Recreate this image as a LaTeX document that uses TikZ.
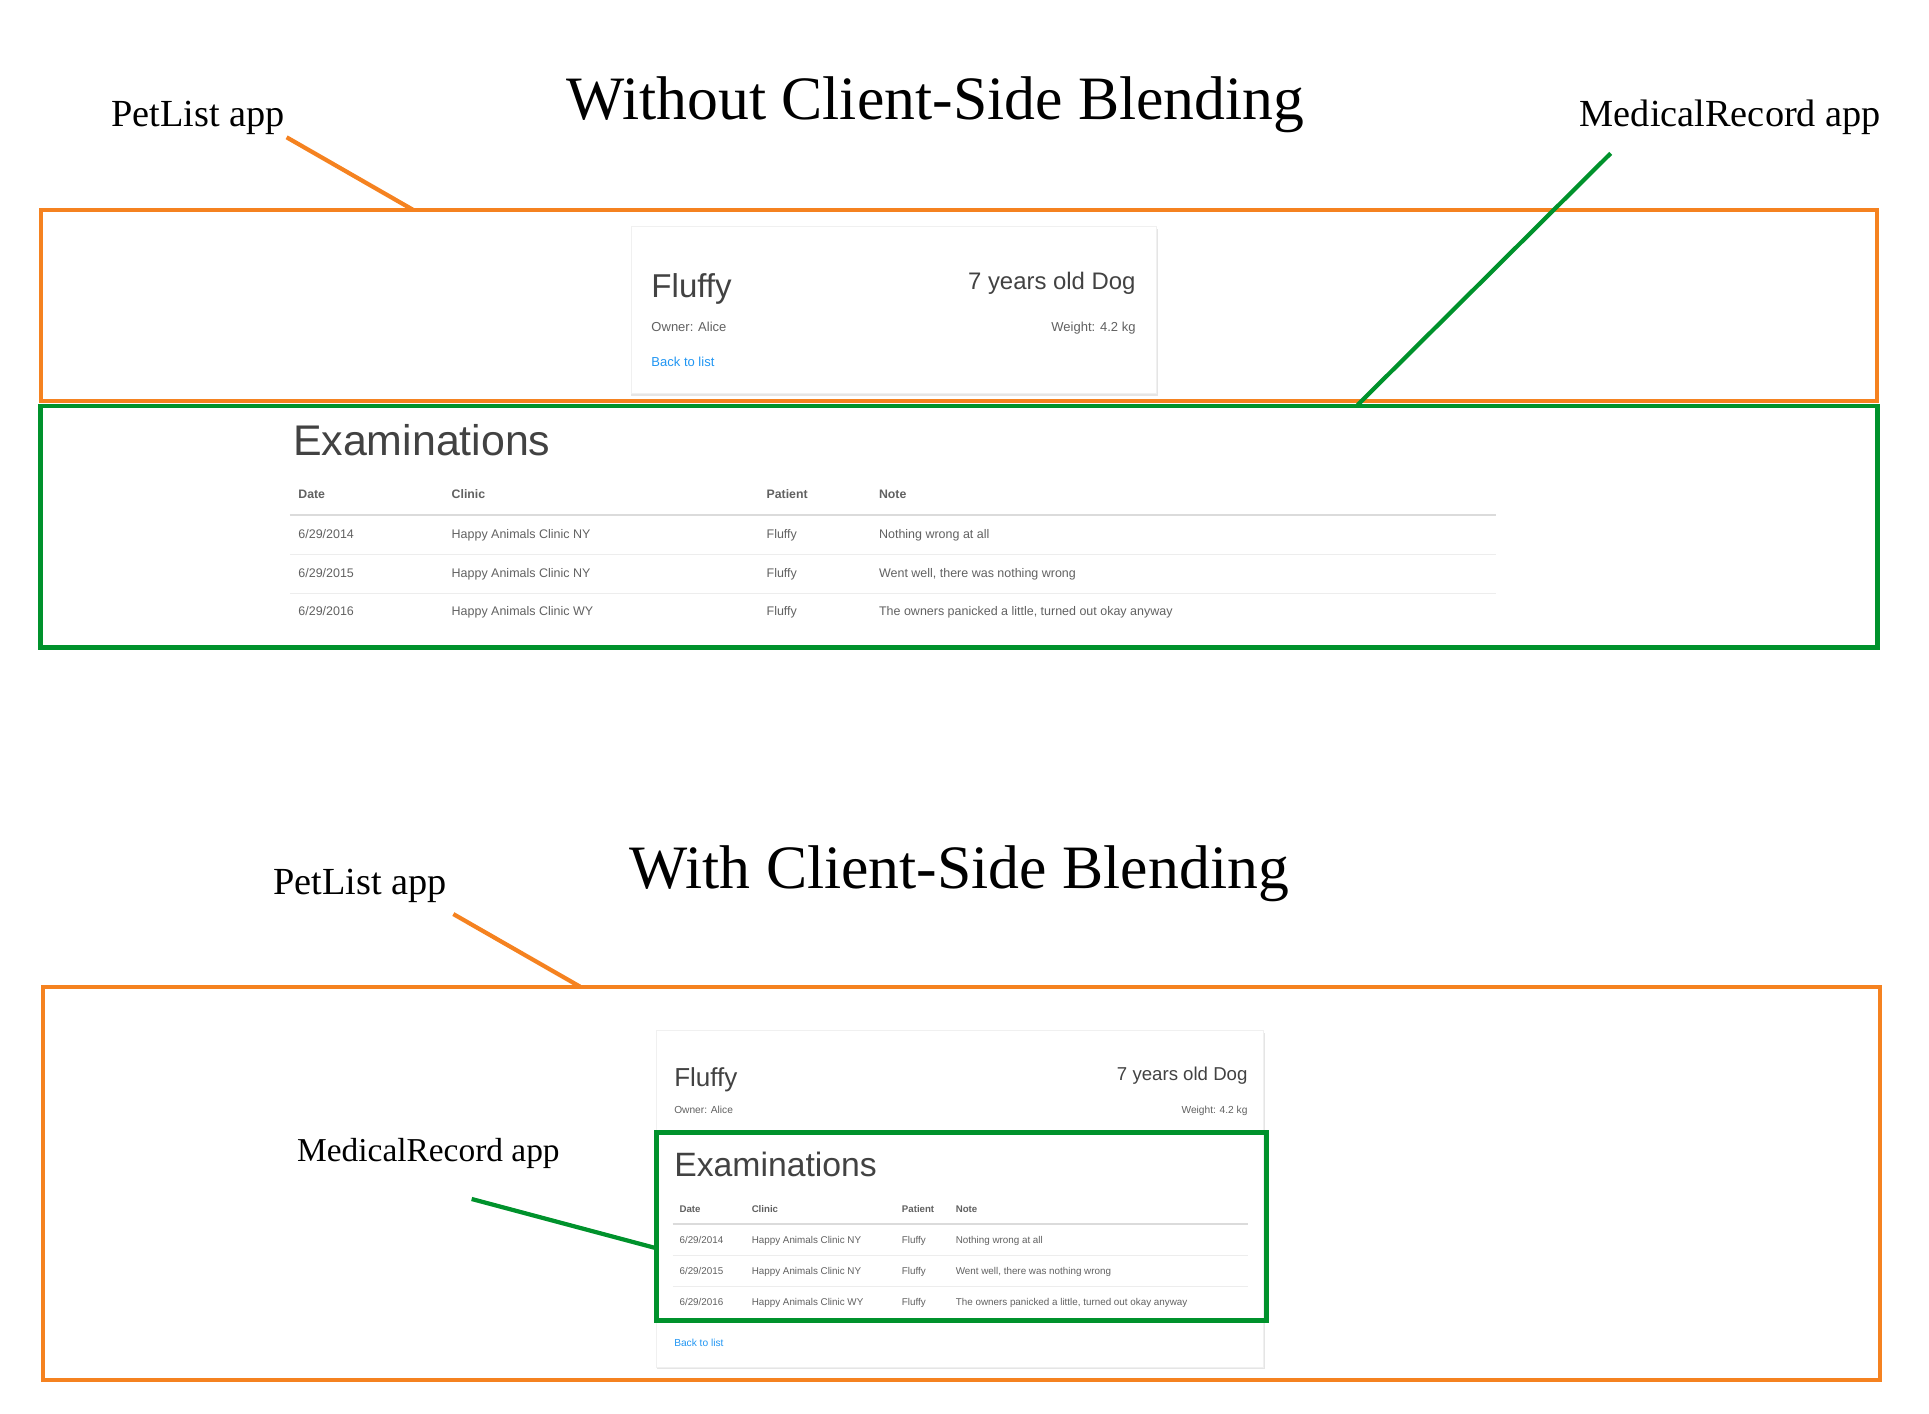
\documentclass[tikz,border=0pt]{standalone}
\usepackage{fontspec}
\setmainfont{Liberation Serif}
\newfontfamily\uifont{Liberation Sans}

\definecolor{plorange}{RGB}{245,130,32}
\definecolor{mrgreen}{RGB}{0,146,44}
\definecolor{uitext}{RGB}{66,66,66}
\definecolor{uigray}{RGB}{97,97,97}
\definecolor{uiblue}{RGB}{33,150,243}
\newcommand{\uisize}[1]{\uifont\fontsize{#1}{#1}\selectfont}

\tikzset{
  txt/.style={inner sep=0pt},
  apptitle/.style={txt, anchor=base, font=\fontsize{17.55}{20}\selectfont},
  applabel/.style={txt, anchor=base west, font=\fontsize{10.9}{13}\selectfont},
  plframe/.style={draw=plorange, line width=1.15pt},
  mrframe/.style={draw=mrgreen, line width=1.4pt},
  plline/.style={draw=plorange, line width=1.2pt},
  mrline/.style={draw=mrgreen, line width=1.2pt},
  card/.style={draw=black!6, fill=white, line width=0.3pt},
  cardshadow/.style={fill=black!10},
  ui/.style={txt, text=uitext},
  uicell/.style={txt, anchor=base west, text=uigray},
  uilink/.style={txt, anchor=base west, text=uiblue},
  headrule/.style={draw=black!14, line width=0.6pt},
  rowrule/.style={draw=black!7, line width=0.4pt}
}

\begin{document}
\begin{tikzpicture}[x=0.012302cm, y=-0.012302cm]
\useasboundingbox (0,0) rectangle (1568,1149);

% without client-side blending
\node[apptitle] (title1) at (760.4,97.5) {Without Client-Side Blending};
\node[applabel] (pl1) at (90,103) {PetList app};
\node[applabel] (mr1) at (1283.6,103) {MedicalRecord app};

\draw[plframe] (33,170.7) rectangle (1525.8,326);
\draw[mrframe] (33,330) rectangle (1525.8,526.5);

\fill[cardshadow] (513,186) rectangle (941,321.5);
\draw[card] (513,184) rectangle (940,320);
\node[ui, anchor=base west, font=\uisize{9.4}] (pet1) at (529,242) {Fluffy};
\node[ui, anchor=base east, font=\uisize{6.8}] (age1) at (923.6,235.7) {7 years old Dog};
\node[ui, anchor=base west, font=\uisize{3.7}, text=uigray] (own1) at (529,269.6) {Owner: Alice};
\node[ui, anchor=base east, font=\uisize{3.7}, text=uigray] (wt1) at (923.6,269.6) {Weight: 4.2 kg};
\node[uilink, font=\uisize{3.7}] (back1) at (529,298) {Back to list};

\node[ui, anchor=base west, font=\uisize{12.2}] (exam1) at (237.6,369.9) {Examinations};
\foreach \x/\h [count=\i] in {242/Date,366.6/Clinic,622.6/Patient,714/Note}
  \node[uicell, font=\uisize{3.5}\bfseries] (th1\i) at (\x,405.6) {\h};
\draw[headrule] (235.7,418.6) -- (1216,418.6);
\foreach \y in {450.6,482.3}
  \draw[rowrule] (235.7,\y) -- (1216,\y);
\foreach \y/\d/\c/\n [count=\i] in {
    438.1/{6/29/2014}/{Happy Animals Clinic NY}/{Nothing wrong at all},
    469.3/{6/29/2015}/{Happy Animals Clinic NY}/{Went well, there was nothing wrong},
    500.7/{6/29/2016}/{Happy Animals Clinic WY}/{The owners panicked a little, turned out okay anyway}}
{
  \node[uicell, font=\uisize{3.55}] (td1\i) at (242,\y) {\d};
  \node[uicell, font=\uisize{3.55}] (tc1\i) at (366.6,\y) {\c};
  \node[uicell, font=\uisize{3.55}] (tp1\i) at (622.6,\y) {Fluffy};
  \node[uicell, font=\uisize{3.55}] (tn1\i) at (714,\y) {\n};
}

\coordinate (pl1a) at (233,111.6);
\coordinate (pl1b) at (336,170.7);
\draw[plline] (pl1a) -- (pl1b);
\coordinate (mr1a) at (1309.3,124.6);
\coordinate (mr1b) at (1103.5,329.2);
\draw[mrline] (mr1a) -- (mr1b);

% with client-side blending
\node[apptitle] (title2) at (779.8,722) {With Client-Side Blending};
\node[applabel] (pl2) at (221.7,726.7) {PetList app};
\node[applabel, font=\fontsize{9.5}{12}\selectfont] (mr2) at (241,944.3) {MedicalRecord app};

\draw[plframe] (35,802) rectangle (1528,1122);

\fill[cardshadow] (534,839.5) rectangle (1028,1113);
\draw[card] (534,837.8) rectangle (1027,1111.5);
\node[ui, anchor=base west, font=\uisize{7.4}] (pet2) at (547.5,883.3) {Fluffy};
\node[ui, anchor=base east, font=\uisize{5.3}] (age2) at (1014.6,877.9) {7 years old Dog};
\node[ui, anchor=base west, font=\uisize{2.9}, text=uigray] (own2) at (547.5,905) {Owner: Alice};
\node[ui, anchor=base east, font=\uisize{2.9}, text=uigray] (wt2) at (1014.6,905) {Weight: 4.2 kg};
\node[uilink, font=\uisize{2.9}] (back2) at (547.5,1094.7) {Back to list};

\node[ui, anchor=base west, font=\uisize{9.6}] (exam2) at (547.5,956.5) {Examinations};
\foreach \x/\h [count=\i] in {551.8/Date,610.5/Clinic,732.6/Patient,776.4/Note}
  \node[uicell, font=\uisize{2.75}\bfseries] (th2\i) at (\x,985.5) {\h};
\draw[headrule] (546.8,995) -- (1014.5,995);
\foreach \y in {1020.4,1045.9}
  \draw[rowrule] (546.8,\y) -- (1014.5,\y);
\foreach \y/\d/\c/\n [count=\i] in {
    1010.7/{6/29/2014}/{Happy Animals Clinic NY}/{Nothing wrong at all},
    1035.6/{6/29/2015}/{Happy Animals Clinic NY}/{Went well, there was nothing wrong},
    1060.8/{6/29/2016}/{Happy Animals Clinic WY}/{The owners panicked a little, turned out okay anyway}}
{
  \node[uicell, font=\uisize{2.8}] (td2\i) at (551.8,\y) {\d};
  \node[uicell, font=\uisize{2.8}] (tc2\i) at (610.5,\y) {\c};
  \node[uicell, font=\uisize{2.8}] (tp2\i) at (732.6,\y) {Fluffy};
  \node[uicell, font=\uisize{2.8}] (tn2\i) at (776.4,\y) {\n};
}

\draw[mrframe] (534,920.7) rectangle (1029.5,1073);

\coordinate (pl2a) at (368.5,743);
\coordinate (pl2b) at (471.5,802);
\draw[plline] (pl2a) -- (pl2b);
\coordinate (mr2a) at (383.4,974.6);
\coordinate (mr2b) at (533.8,1014.7);
\draw[mrline] (mr2a) -- (mr2b);
\end{tikzpicture}
\end{document}
